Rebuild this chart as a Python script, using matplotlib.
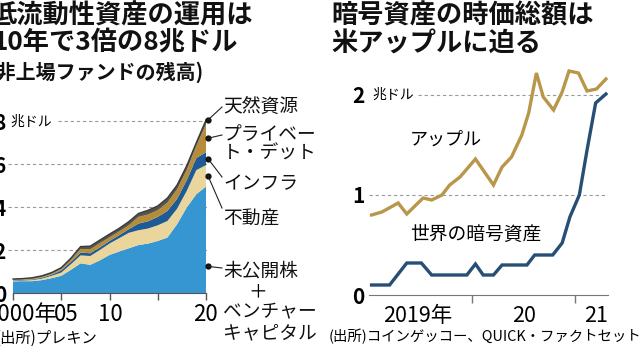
import numpy as np
import matplotlib
matplotlib.use("Agg")
import matplotlib.pyplot as plt

plt.rcParams['font.family'] = ['Noto Sans CJK JP', 'DejaVu Sans']

# ---- left panel data (trillion USD, stacked layers) ----
years = np.arange(2000, 2021)
pe_vc = [0.54, 0.55, 0.55, 0.60, 0.69, 0.80, 1.08, 1.38, 1.31, 1.52, 1.77,
         1.93, 2.08, 2.23, 2.30, 2.42, 2.58, 3.20, 3.98, 4.60, 4.95]
real_estate = [0.03, 0.03, 0.05, 0.07, 0.11, 0.15, 0.26, 0.37, 0.41, 0.48, 0.53,
               0.62, 0.72, 0.69, 0.70, 0.73, 0.77, 0.72, 0.77, 1.12, 1.00]
infra = [0.02, 0.03, 0.03, 0.04, 0.05, 0.10, 0.11, 0.13, 0.13, 0.12, 0.12,
         0.14, 0.17, 0.31, 0.34, 0.39, 0.47, 0.46, 0.50, 0.56, 0.60]
private_debt = [0.03, 0.03, 0.04, 0.04, 0.05, 0.07, 0.10, 0.17, 0.18, 0.20, 0.17,
                0.17, 0.18, 0.31, 0.31, 0.31, 0.38, 0.44, 0.47, 0.57, 1.30]
natural_res = [0.03, 0.03, 0.04, 0.05, 0.05, 0.06, 0.07, 0.11, 0.15, 0.14, 0.15,
               0.15, 0.17, 0.16, 0.20, 0.20, 0.22, 0.20, 0.20, 0.15, 0.20]
left_colors = ['#3596d2', '#ead69c', '#1e5b95', '#b68c3a', '#55554c']

# ---- right panel data (trillion USD) ----
apple_months = [0.3, 1.5, 3.4, 4.4, 6.3, 7.3, 8.5, 9.4, 10.6, 12.4, 14.5, 15.5,
                16.6, 17.8, 18.6, 19.5, 20.3, 21.5, 22.5, 23.3, 24.4, 25.4, 26.5, 27.6]
apple = [0.80, 0.83, 0.92, 0.81, 0.97, 0.95, 1.00, 1.10, 1.18, 1.36, 1.10, 1.28,
         1.38, 1.60, 1.82, 2.22, 1.98, 1.85, 2.03, 2.24, 2.22, 2.04, 2.06, 2.16]
crypto_months = [0.3, 2.4, 4.4, 6.1, 7.3, 11.4, 12.4, 13.3, 14.5, 15.5, 18.4, 19.3,
                 21.4, 22.5, 23.4, 24.5, 25.4, 26.4, 27.6]
crypto = [0.10, 0.10, 0.32, 0.32, 0.20, 0.20, 0.31, 0.20, 0.20, 0.30, 0.30, 0.40,
          0.40, 0.52, 0.78, 1.00, 1.45, 1.92, 2.01]

W, H = 640, 357
fig = plt.figure(figsize=(6.4, 3.57), dpi=100)


def axes_px(x0, y0, x1, y1):
    return fig.add_axes([x0 / W, 1 - y1 / H, (x1 - x0) / W, (y1 - y0) / H])


def ftext(x, y, s, **kw):
    kw.setdefault('va', 'center')
    return fig.text(x / W, 1 - y / H, s, **kw)


def fline(x0, y0, x1, y1):
    fig.add_artist(plt.Line2D([x0 / W, x1 / W], [1 - y0 / H, 1 - y1 / H],
                              color='#222222', lw=0.8, transform=fig.transFigure))


grid_kw = dict(color='#9a9a9a', lw=0.8, ls=(0, (3, 2.5)), zorder=0)

# ================= left panel =================
ax = axes_px(8.2, 118.9, 206.5, 293)
ax.stackplot(years, pe_vc, real_estate, infra, private_debt, natural_res,
             colors=left_colors, lw=0, zorder=2)
total = np.sum([pe_vc, real_estate, infra, private_debt, natural_res], axis=0)
ax.plot(years, total, color='#3a3a3a', lw=1, zorder=3)
ax.set_xlim(1999.5, 2020.05)
ax.set_ylim(0, 8.1)
for s in ['top', 'right', 'left']:
    ax.spines[s].set_visible(False)
ax.spines['bottom'].set_bounds(2000, 2020)
ax.spines['bottom'].set_color('#555555')
ax.set_xticks([2000, 2005, 2010, 2015, 2020])
ax.tick_params(axis='x', which='major', length=5, width=1, color='#555555',
               labelbottom=False)
ax.set_xticks([2000.8, 2005.55, 2010.1, 2015, 2019.95], minor=True)
ax.set_xticklabels(['2000年', '05', '10', '15', '20'], minor=True)
ax.tick_params(axis='x', which='minor', length=0, pad=7, labelsize=16)
ax.set_yticks([0, 2, 4, 6, 8])
ax.set_yticklabels(['0', '2', '4', '6', '8'], fontweight='bold')
ax.tick_params(axis='y', length=0, pad=1.5, labelsize=15)
for v in [2, 4, 6]:
    ax.axhline(v, **grid_kw)
ax.axhline(8, xmin=(58 - 8.2) / 198.3, **grid_kw)
ftext(10, 122, '兆ドル', fontsize=10)

# label dots and leaders
cum = np.cumsum([pe_vc, real_estate, infra, private_debt, natural_res], axis=0)
dot_vals = [cum[4][-1], cum[2][-1] + 0.5 * private_debt[-1],
            cum[1][-1] + 0.5 * infra[-1], cum[0][-1] + 0.5 * real_estate[-1],
            0.25 * pe_vc[-1]]
ax.plot([2020.2] * 5, dot_vals, 'o', ms=3.5, color='#111111', clip_on=False, zorder=5)
label_y = [107, 135, 177, 208, 268]
for v, ly in zip(dot_vals, label_y):
    dy = 293 - v * (293 - 118.9) / 8.1
    fline(208, dy, 222, ly)

lab_kw = dict(fontsize=13.5, ha='left', color='#111111')
ftext(223, 106, '天然資源', **lab_kw)
ftext(223, 135, 'プライベー', **lab_kw)
ftext(223, 153, 'ト・デット', **lab_kw)
ftext(223, 184, 'インフラ', **lab_kw)
ftext(223, 219, '不動産', **lab_kw)
ftext(223, 271, '未公開株', **lab_kw)
ftext(258, 292, '＋', fontsize=13.5, ha='center')
ftext(223, 312, 'ベンチャー', **lab_kw)
ftext(223, 333, 'キャピタル', **lab_kw)

# ================= right panel =================
ax2 = axes_px(369, 65, 608, 295)
ax2.plot(2019 + np.array(apple_months) / 12, apple, color='#b8964a', lw=2.4,
         solid_joinstyle='miter', zorder=3)
ax2.plot(2019 + np.array(crypto_months) / 12, crypto, color='#274e74', lw=2.4,
         solid_joinstyle='miter', zorder=3)
ax2.set_xlim(2019, 2021.32)
ax2.set_ylim(0, 2.3)
for s in ['top', 'right', 'left']:
    ax2.spines[s].set_visible(False)
ax2.spines['bottom'].set_color('#777777')
ax2.set_xticks([2020, 2021])
ax2.tick_params(axis='x', which='major', length=6, width=1, color='#777777',
                labelbottom=False)
ax2.set_xticks([2019.47, 2020.5, 2021.2], minor=True)
ax2.set_xticklabels(['2019年', '20', '21'], minor=True)
ax2.tick_params(axis='x', which='minor', length=0, pad=7, labelsize=15.5)
ax2.set_yticks([0, 1, 2])
ax2.set_yticklabels(['0', '1', '2'], fontweight='bold')
ax2.tick_params(axis='y', length=0, pad=3, labelsize=15)
ax2.axhline(1, **grid_kw)
ax2.axhline(2, xmin=(418 - 369) / 239, **grid_kw)
ftext(372, 95, '兆ドル', fontsize=10)
ftext(410, 140, 'アップル', fontsize=13, ha='left')
ftext(410, 234, '世界の暗号資産', fontsize=13.5, ha='left')

# ================= titles & sources =================
t_kw = dict(fontsize=18.9, fontweight='bold', color='#111111')
ftext(-9, 16, '低流動性資産の運用は', ha='left', **t_kw)
ftext(238, 43, '10年で3倍の8兆ドル', ha='right', **t_kw)
ftext(203, 72, '(非上場ファンドの残高)', fontsize=14.4, fontweight='bold',
      ha='right', color='#111111')
ftext(331, 16, '暗号資産の時価総額は', ha='left', **t_kw)
ftext(331, 44, '米アップルに迫る', ha='left', **t_kw)
ftext(97, 338, '(出所)プレキン', fontsize=11, ha='right')
ftext(641, 336, '(出所)コインゲッコー、QUICK・ファクトセット', fontsize=10.4, ha='right')

fig.savefig('out.png', dpi=100)
